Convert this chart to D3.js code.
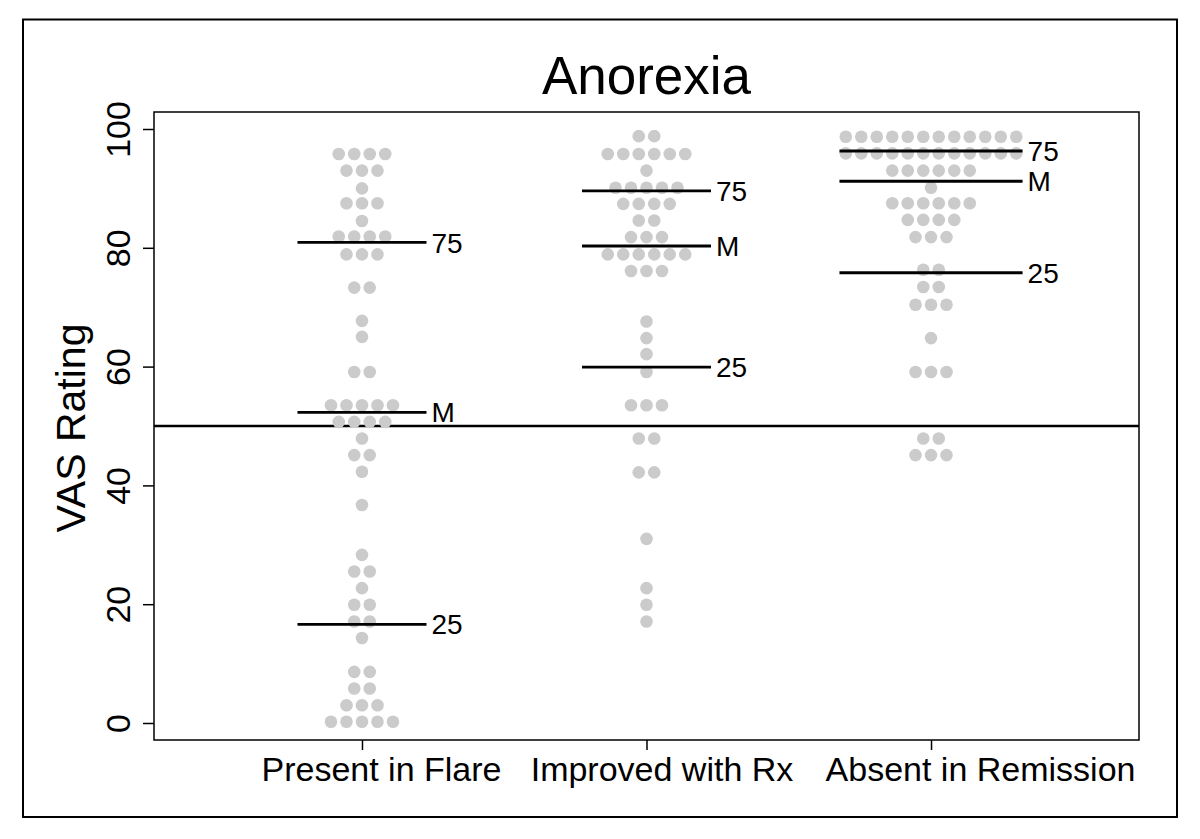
<!DOCTYPE html>
<html>
<head>
<meta charset="utf-8">
<script src="https://cdn.jsdelivr.net/npm/d3@7"></script>
<style>
  html, body { margin: 0; padding: 0; background: #fff; }
  svg { display: block; font-family: "Liberation Sans", Arial, Helvetica, sans-serif; }
</style>
</head>
<body>
<svg id="chart" width="1200" height="839"></svg>
<script>
// ---- data ----
const categories = ["Present in Flare", "Improved with Rx", "Absent in Remission"];

// dot rows: value of each row and number of dots in it
const presentValues = [95.8, 93.0, 90.0, 87.5, 84.5, 81.9, 78.9, 73.3, 67.7, 65.0, 59.1, 53.5, 50.7, 47.9, 45.1, 42.3, 36.7, 28.3, 25.5, 22.7, 19.9, 17.1, 14.3, 8.6, 5.8, 3.0, 0.2];
const presentCounts = [4, 3, 1, 3, 1, 4, 3, 2, 1, 1, 2, 5, 4, 1, 2, 1, 1, 1, 2, 1, 2, 2, 1, 2, 2, 3, 5];

const improvedValues = [98.8, 95.8, 93.0, 90.1, 87.4, 84.6, 81.8, 78.9, 76.1, 67.6, 64.8, 62.1, 59.1, 53.5, 47.9, 42.2, 31.0, 22.7, 19.9, 17.1];
const improvedCounts = [2, 6, 1, 5, 4, 2, 3, 6, 3, 1, 1, 1, 1, 3, 2, 2, 1, 1, 1, 1];

const absentValues = [98.7, 95.9, 93.0, 90.1, 87.5, 84.7, 81.8, 76.3, 73.4, 70.4, 64.8, 59.1, 47.9, 45.1];
const absentCounts = [12, 12, 6, 1, 6, 4, 3, 2, 2, 3, 1, 3, 2, 3];

// quartile lines: 75th percentile, median, 25th percentile
const q75 = [80.9, 89.6, 96.3];
const medians = [52.3, 80.3, 91.2];
const q25 = [16.6, 59.9, 75.8];
const quartileLabels = ["75", "M", "25"];

const referenceValue = 50;
const yTicks = [0, 20, 40, 60, 80, 100];
const title = "Anorexia";
const yTitle = "VAS Rating";

// ---- layout ----
const svg = d3.select("#chart");
const plot = { left: 154, right: 1139, top: 112, bottom: 740 };
const dotR = 6.3, dotStep = 15.5;
const xLabelShift = [19, 15, 49]; // horizontal label offsets seen in the reference

const x = d3.scalePoint().domain(categories).range([plot.left, plot.right]).padding(0.731);
const y = d3.scaleLinear().domain([0, 100]).range([723, 129]);

// outer border
svg.append("rect").attr("x", 23).attr("y", 19.5).attr("width", 1154).attr("height", 797.5)
  .attr("fill", "none").attr("stroke", "#000").attr("stroke-width", 2);

// plot region
svg.append("rect").attr("x", plot.left).attr("y", plot.top)
  .attr("width", plot.right - plot.left).attr("height", plot.bottom - plot.top)
  .attr("fill", "none").attr("stroke", "#000").attr("stroke-width", 1.5);

// title
svg.append("text").attr("x", (plot.left + plot.right) / 2).attr("y", 94)
  .attr("text-anchor", "middle").attr("font-size", 53).text(title);

// y axis
const yAxis = d3.axisLeft(y).tickValues(yTicks).tickSize(11).tickPadding(0).tickFormat(d3.format("d"));
const gy = svg.append("g").attr("transform", `translate(${plot.left},0)`).call(yAxis);
gy.select(".domain").remove();
gy.selectAll(".tick line").attr("stroke", "#000").attr("stroke-width", 1.5);
gy.selectAll(".tick text").remove();
gy.selectAll(".tick").append("text")
  .attr("transform", "translate(-24,0) rotate(-90)")
  .attr("text-anchor", "middle").attr("fill", "#000")
  .attr("font-size", 34).attr("font-family", "Liberation Sans, Arial, sans-serif")
  .text(d => d);

// y title
svg.append("text").attr("transform", `translate(85,${y(50) + 2}) rotate(-90)`)
  .attr("text-anchor", "middle").attr("font-size", 41).text(yTitle);

// x axis
const xAxis = d3.axisBottom(x).tickSize(10).tickPadding(0);
const gx = svg.append("g").attr("transform", `translate(0,${plot.bottom})`).call(xAxis);
gx.select(".domain").remove();
gx.selectAll(".tick line").attr("stroke", "#000").attr("stroke-width", 1.5);
gx.selectAll(".tick text").attr("y", 41).attr("dy", 0).attr("fill", "#000")
  .attr("x", (d, i) => xLabelShift[i])
  .attr("font-size", 34).attr("font-family", "Liberation Sans, Arial, sans-serif");

// reference line
svg.append("line").attr("x1", plot.left).attr("x2", plot.right)
  .attr("y1", y(referenceValue)).attr("y2", y(referenceValue))
  .attr("stroke", "#000").attr("stroke-width", 2.5);

// dots
const groups = [
  { cat: categories[0], values: presentValues, counts: presentCounts },
  { cat: categories[1], values: improvedValues, counts: improvedCounts },
  { cat: categories[2], values: absentValues, counts: absentCounts }
];
const dots = [];
groups.forEach(g => {
  g.values.forEach((v, i) => {
    const n = g.counts[i];
    for (let k = 0; k < n; k++) dots.push({ cat: g.cat, v, offset: (k - (n - 1) / 2) * dotStep });
  });
});
svg.append("g").selectAll("circle").data(dots).join("circle")
  .attr("cx", d => x(d.cat) + d.offset)
  .attr("cy", d => y(d.v))
  .attr("r", dotR)
  .attr("fill", "#cbcbcb");

// quartile lines & labels
const qg = svg.append("g");
groups.forEach((g, gi) => {
  const maxN = d3.max(g.counts);
  const half = Math.max(64.5, (maxN - 1) / 2 * dotStep + dotR);
  const cx = x(g.cat);
  [q75[gi], medians[gi], q25[gi]].forEach((v, qi) => {
    qg.append("line").attr("x1", cx - half).attr("x2", cx + half)
      .attr("y1", y(v)).attr("y2", y(v))
      .attr("stroke", "#000").attr("stroke-width", 2.8);
    qg.append("text").attr("x", cx + half + 5).attr("y", y(v)).attr("dy", "0.36em")
      .attr("font-size", 28).text(quartileLabels[qi]);
  });
});
</script>
</body>
</html>
